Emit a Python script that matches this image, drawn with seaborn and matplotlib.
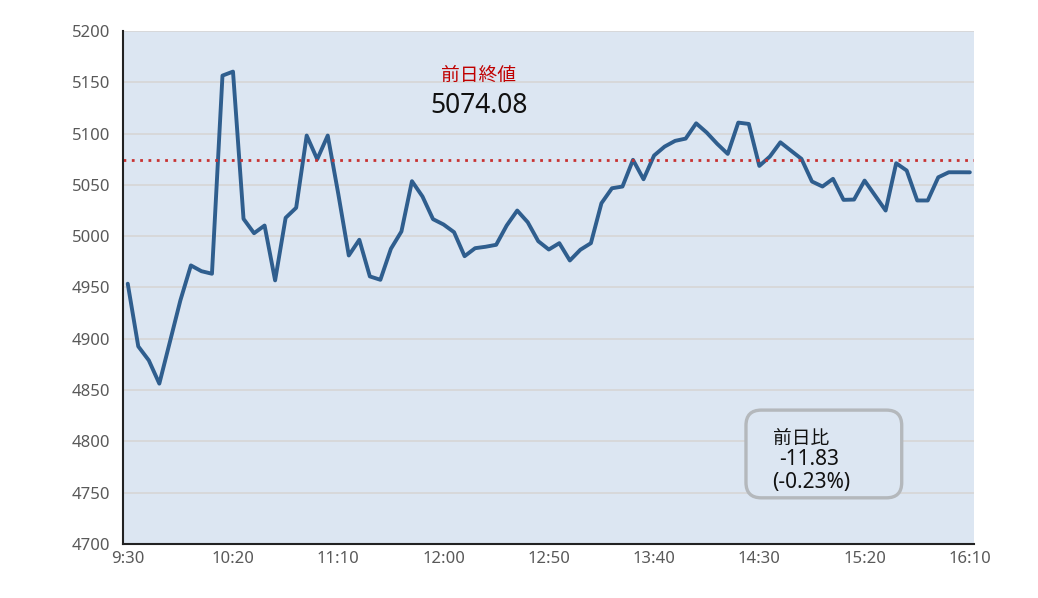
import seaborn as sns
import matplotlib.pyplot as plt
import pandas as pd
from matplotlib.patches import FancyBboxPatch

# data: index value every 5 minutes, 9:30 - 16:10
times = [f"{(570 + 5 * i) // 60}:{(570 + 5 * i) % 60:02d}" for i in range(81)]
values = [
    4953.7, 4892.6, 4879.0, 4856.3, 4896.8, 4937.4, 4971.5, 4965.9, 4963.4, 5156.5,
    5160.4, 5016.9, 5002.9, 5010.4, 4956.9, 5017.9, 5027.7, 5098.1, 5075.0, 5098.1,
    5041.3, 4981.2, 4996.5, 4960.8, 4957.5, 4987.7, 5004.6, 5053.6, 5038.7, 5016.6,
    5011.4, 5003.9, 4980.5, 4988.3, 4989.7, 4991.6, 5010.4, 5025.0, 5013.6, 4995.1,
    4987.0, 4993.2, 4976.3, 4986.8, 4993.2, 5032.1, 5046.7, 5048.4, 5074.4, 5055.5,
    5078.6, 5087.3, 5092.9, 5095.1, 5110.0, 5101.0, 5090.0, 5080.2, 5110.7, 5109.4,
    5068.5, 5077.6, 5091.5, 5083.4, 5075.4, 5053.3, 5048.4, 5055.9, 5035.4, 5035.7,
    5054.2, 5039.6, 5025.0, 5071.1, 5064.0, 5034.8, 5034.8, 5057.4, 5062.3, 5062.3,
    5062.25,
]
prev_close = 5074.08
change = -11.83
change_pct = -0.23
tick_labels = ["9:30", "10:20", "11:10", "12:00", "12:50", "13:40", "14:30", "15:20", "16:10"]

df = pd.DataFrame({"time": times, "value": values})
df["pos"] = range(len(df))

sns.set_style("white")
plt.rcParams["font.family"] = ["Noto Sans", "Noto Sans CJK JP", "DejaVu Sans"]

fig = plt.figure(figsize=(10.38, 5.98), dpi=100)
ax = fig.add_axes([0.1185, 0.0903, 0.8199, 0.8579])
ax.set_facecolor("#dce6f2")

sns.lineplot(data=df, x="pos", y="value", ax=ax, color="#2f5e8e", linewidth=2.8)
ax.axhline(prev_close, color="#c83232", linestyle=(0, (1, 2.0)), linewidth=2)

ax.set_ylim(4700, 5200)
ax.set_yticks(range(4700, 5201, 50))
ax.set_xlim(-0.45, 80.4)
label_pos = [times.index(t) for t in tick_labels]
ax.set_xticks(label_pos)
ax.set_xticklabels(tick_labels)
ax.set_xticks([p + 4.5 for p in label_pos[:-1]] + [79.5], minor=True)
ax.tick_params(axis="x", which="major", length=0, pad=5, labelsize=12, labelcolor="#595959")
ax.tick_params(axis="x", which="minor", direction="in", length=4, width=1.2, color="#222222")
ax.tick_params(axis="y", length=4, width=1.2, color="#222222", pad=5, labelsize=12, labelcolor="#595959")
ax.grid(axis="y", color="#d6d6d6", linewidth=1.2)
ax.set_axisbelow(True)
ax.set_xlabel("")
ax.set_ylabel("")

for s in ["top", "right"]:
    ax.spines[s].set_visible(False)
for s in ["left", "bottom"]:
    ax.spines[s].set_color("#222222")
    ax.spines[s].set_linewidth(1.5)

# previous close annotation
ax.text(0.418, 0.913, "前日終値", transform=ax.transAxes, ha="center", va="center",
        fontsize=13.5, color="#c00000")
ax.text(0.418, 0.854, f"{prev_close:.2f}", transform=ax.transAxes, ha="center", va="center",
        fontsize=19, color="#111111")

# change box
box = FancyBboxPatch((0.732, 0.090), 0.183, 0.171, transform=ax.transAxes,
                     boxstyle="round,pad=0,rounding_size=0.018", mutation_aspect=851 / 513,
                     facecolor="#dce6f2", edgecolor="#b4b8bc", linewidth=2.4, zorder=5)
ax.add_patch(box)
ax.text(0.764, 0.204, "前日比", transform=ax.transAxes, ha="left", va="center",
        fontsize=13.5, color="#111111", zorder=6)
ax.text(0.771, 0.164, f"{change:.2f}", transform=ax.transAxes, ha="left", va="center",
        fontsize=15, color="#111111", zorder=6)
ax.text(0.763, 0.119, f"({change_pct:.2f}%)", transform=ax.transAxes, ha="left", va="center",
        fontsize=15, color="#111111", zorder=6)

plt.savefig("out.png", dpi=100)
